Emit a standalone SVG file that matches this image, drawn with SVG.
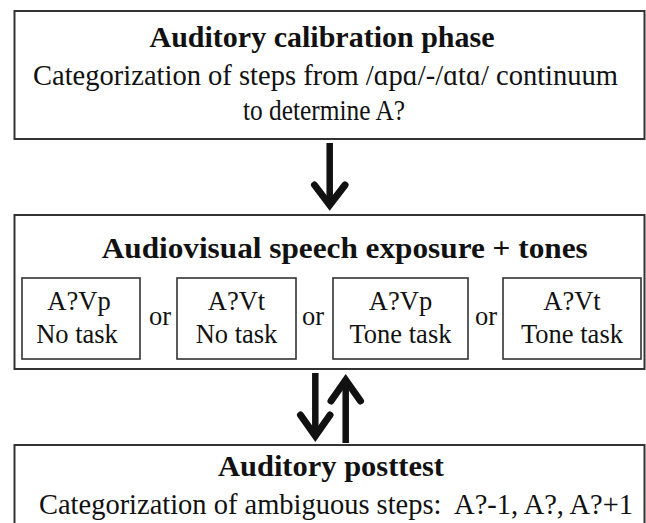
<svg xmlns="http://www.w3.org/2000/svg" width="646" height="523" viewBox="0 0 646 523">
<style>
  .box { fill: #fff; stroke: #333; stroke-width: 2; }
  .ibox { fill: #fff; stroke: #333; stroke-width: 1.6; }
  .t { font-family: "Liberation Serif", "Times New Roman", serif; fill: #111; }
  .title { font-weight: bold; font-size: 30px; }
  .sub { font-size: 28.5px; text-anchor: middle; }
  .cell { font-size: 26.5px; text-anchor: middle; }
  .arrow { fill: none; stroke: #111; stroke-width: 6.5; stroke-linecap: butt; }
  .head { fill: none; stroke: #111; stroke-width: 7; stroke-linejoin: miter; stroke-miterlimit: 10; stroke-linecap: round; }
</style>
<rect width="646" height="523" fill="#fff"/>

<g id="calibration">
  <rect class="box" x="14.5" y="11" width="630" height="128"/>
  <text class="t title" x="322" y="47" text-anchor="middle" font-size="29.5">Auditory calibration phase</text>
  <text class="t sub" x="325.5" y="85" textLength="585" lengthAdjust="spacingAndGlyphs">Categorization of steps from /ɑpɑ/-/ɑtɑ/ continuum</text>
  <text class="t sub" x="324" y="120" textLength="162" lengthAdjust="spacingAndGlyphs">to determine A?</text>
</g>

<g id="exposure">
  <rect class="box" x="14.5" y="215" width="630" height="154"/>
  <text class="t title" x="101.7" y="258" font-size="30.5" textLength="486" lengthAdjust="spacingAndGlyphs">Audiovisual speech exposure + tones</text>
  <g id="cond1">
    <rect class="ibox" x="22" y="278" width="118" height="81"/>
    <text class="t cell" x="79" y="310">A?Vp</text>
    <text class="t cell" x="77" y="343">No task</text>
  </g>
  <text class="t cell" x="160" y="325">or</text>
  <g id="cond2">
    <rect class="ibox" x="177" y="278" width="119" height="81"/>
    <text class="t cell" x="236.5" y="310">A?Vt</text>
    <text class="t cell" x="236.5" y="343">No task</text>
  </g>
  <text class="t cell" x="313" y="325">or</text>
  <g id="cond3">
    <rect class="ibox" x="333" y="278" width="135" height="81"/>
    <text class="t cell" x="400.5" y="310">A?Vp</text>
    <text class="t cell" x="400.5" y="343">Tone task</text>
  </g>
  <text class="t cell" x="486" y="325">or</text>
  <g id="cond4">
    <rect class="ibox" x="503" y="278" width="138" height="81"/>
    <text class="t cell" x="572" y="310">A?Vt</text>
    <text class="t cell" x="572" y="343">Tone task</text>
  </g>
</g>

<g id="posttest">
  <rect class="box" x="14.5" y="445" width="630" height="100"/>
  <text class="t title" x="218" y="476" textLength="226" lengthAdjust="spacingAndGlyphs">Auditory posttest</text>
  <text class="t sub" x="336" y="514" xml:space="preserve" textLength="594" lengthAdjust="spacingAndGlyphs">Categorization of ambiguous steps:  A?-1, A?, A?+1</text>
</g>

<g id="connectors">
  <path class="arrow" d="M329.7,143 V206"/>
  <path class="head" d="M314.5,185 L329.7,205 L345,185"/>
  <path class="arrow" d="M315.3,373 V437"/>
  <path class="head" d="M300.5,415 L315.3,436 L330,415"/>
  <path class="arrow" d="M345.7,380 V443"/>
  <path class="head" d="M331,401 L345.7,380 L360.5,401"/>
</g>
</svg>
